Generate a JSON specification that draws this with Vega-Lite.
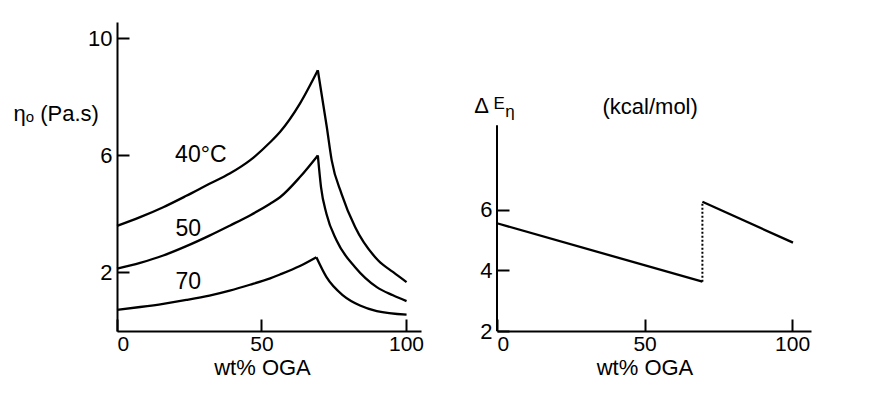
{
  "$schema": "https://vega.github.io/schema/vega-lite/v6.json",
  "background": "white",
  "padding": {"left": 13, "top": 22, "right": 5, "bottom": 5},
  "spacing": 50,
  "config": {
    "view": {"stroke": null},
    "font": "Liberation Sans",
    "axis": {
      "domainColor": "black", "domainWidth": 2,
      "tickColor": "black", "tickWidth": 2, "tickSize": -12,
      "labelColor": "black", "labelFontSize": 22, "labelFont": "Liberation Sans", "labelPadding": 17,
      "titleFont": "Liberation Sans", "titleColor": "black", "titleFontWeight": "normal", "titleFontSize": 22,
      "grid": false
    },
    "axisX": {"labelPadding": 14, "labelFontSize": 21, "titlePadding": 3}
  },
  "datasets": {
    "eta": [
      {"T": 40, "side": "up", "wt": 0, "eta": 3.59},
      {"T": 40, "side": "up", "wt": 8, "eta": 3.89},
      {"T": 40, "side": "up", "wt": 16, "eta": 4.23},
      {"T": 40, "side": "up", "wt": 24, "eta": 4.62},
      {"T": 40, "side": "up", "wt": 32, "eta": 5.03},
      {"T": 40, "side": "up", "wt": 39, "eta": 5.38},
      {"T": 40, "side": "up", "wt": 46, "eta": 5.83},
      {"T": 40, "side": "up", "wt": 53, "eta": 6.45},
      {"T": 40, "side": "up", "wt": 56.4, "eta": 6.8},
      {"T": 40, "side": "up", "wt": 63.3, "eta": 7.77},
      {"T": 40, "side": "up", "wt": 69.5, "eta": 8.91},
      {"T": 40, "side": "down", "wt": 69.5, "eta": 8.91},
      {"T": 40, "side": "down", "wt": 72.6, "eta": 6.97},
      {"T": 40, "side": "down", "wt": 74.3, "eta": 5.83},
      {"T": 40, "side": "down", "wt": 77.7, "eta": 4.69},
      {"T": 40, "side": "down", "wt": 82.4, "eta": 3.55},
      {"T": 40, "side": "down", "wt": 90.4, "eta": 2.41},
      {"T": 40, "side": "down", "wt": 95.6, "eta": 2.01},
      {"T": 40, "side": "down", "wt": 100.2, "eta": 1.67},
      {"T": 50, "side": "up", "wt": 0, "eta": 2.13},
      {"T": 50, "side": "up", "wt": 8, "eta": 2.33},
      {"T": 50, "side": "up", "wt": 16, "eta": 2.58},
      {"T": 50, "side": "up", "wt": 24, "eta": 2.9},
      {"T": 50, "side": "up", "wt": 32, "eta": 3.26},
      {"T": 50, "side": "up", "wt": 39, "eta": 3.6},
      {"T": 50, "side": "up", "wt": 46, "eta": 3.95},
      {"T": 50, "side": "up", "wt": 53, "eta": 4.35},
      {"T": 50, "side": "up", "wt": 56.4, "eta": 4.57},
      {"T": 50, "side": "up", "wt": 63.3, "eta": 5.26},
      {"T": 50, "side": "up", "wt": 69.5, "eta": 6.0},
      {"T": 50, "side": "down", "wt": 69.5, "eta": 6.0},
      {"T": 50, "side": "down", "wt": 70.6, "eta": 4.92},
      {"T": 50, "side": "down", "wt": 72.5, "eta": 4.0},
      {"T": 50, "side": "down", "wt": 76, "eta": 3.09},
      {"T": 50, "side": "down", "wt": 82.4, "eta": 2.18},
      {"T": 50, "side": "down", "wt": 89.9, "eta": 1.5},
      {"T": 50, "side": "down", "wt": 95.5, "eta": 1.22},
      {"T": 50, "side": "down", "wt": 100.2, "eta": 1.02},
      {"T": 70, "side": "up", "wt": 0, "eta": 0.72},
      {"T": 70, "side": "up", "wt": 8, "eta": 0.82},
      {"T": 70, "side": "up", "wt": 16, "eta": 0.93},
      {"T": 70, "side": "up", "wt": 24, "eta": 1.06},
      {"T": 70, "side": "up", "wt": 32, "eta": 1.21},
      {"T": 70, "side": "up", "wt": 39, "eta": 1.38},
      {"T": 70, "side": "up", "wt": 46, "eta": 1.58},
      {"T": 70, "side": "up", "wt": 53, "eta": 1.8},
      {"T": 70, "side": "up", "wt": 56.4, "eta": 1.93},
      {"T": 70, "side": "up", "wt": 63.3, "eta": 2.22},
      {"T": 70, "side": "up", "wt": 69, "eta": 2.52},
      {"T": 70, "side": "down", "wt": 69, "eta": 2.52},
      {"T": 70, "side": "down", "wt": 72.5, "eta": 1.84},
      {"T": 70, "side": "down", "wt": 78.3, "eta": 1.21},
      {"T": 70, "side": "down", "wt": 84.1, "eta": 0.87},
      {"T": 70, "side": "down", "wt": 89.9, "eta": 0.68},
      {"T": 70, "side": "down", "wt": 100.2, "eta": 0.56}
    ],
    "etaLabels": [
      {"label": "40°C", "x": 29, "y": 6.0},
      {"label": "50", "x": 24.7, "y": 3.49},
      {"label": "70", "x": 24.7, "y": 1.67}
    ],
    "dE": [
      {"seg": "low", "wt": 0, "E": 5.56},
      {"seg": "low", "wt": 69.6, "E": 3.63},
      {"seg": "high", "wt": 69.6, "E": 6.27},
      {"seg": "high", "wt": 100.3, "E": 4.92},
      {"seg": "jump", "wt": 69.6, "E": 3.63},
      {"seg": "jump", "wt": 69.6, "E": 6.27}
    ],
    "dELabels": [
      {"label": "Δ", "x": -5.25, "y": 9.45},
      {"label": "E", "x": 0.7, "y": 9.5},
      {"label": "η", "x": 4.4, "y": 9.24},
      {"label": "(kcal/mol)", "x": 51.9, "y": 9.39}
    ]
  },
  "hconcat": [
    {
      "width": 304,
      "height": 309,
      "layer": [
        {
          "data": {"name": "eta"},
          "mark": {"type": "line", "color": "black", "strokeWidth": 2.3, "interpolate": "monotone"},
          "encoding": {
            "x": {"field": "wt", "type": "quantitative",
                  "scale": {"domain": [0, 105.2], "nice": false, "zero": false},
                  "axis": {"values": [0, 50, 100], "title": "wt% OGA", "titleX": 145, "titleAlign": "center"}},
            "y": {"field": "eta", "type": "quantitative",
                  "scale": {"domain": [0, 10.56], "nice": false},
                  "axis": {"values": [2, 6, 10], "title": "ηₒ (Pa.s)", "titleAngle": 0, "titleAlign": "left", "titleBaseline": "middle", "titleX": -104, "titleY": 91, "titleFontSize": 22}},
            "detail": [{"field": "T"}, {"field": "side"}]
          }
        },
        {
          "data": {"name": "etaLabels"},
          "mark": {"type": "text", "fontSize": 23, "font": "Liberation Sans", "color": "black", "align": "center", "baseline": "middle"},
          "encoding": {
            "x": {"field": "x", "type": "quantitative"},
            "y": {"field": "y", "type": "quantitative"},
            "text": {"field": "label"}
          }
        }
      ]
    },
    {
      "width": 314,
      "height": 309,
      "layer": [
        {
          "data": {"name": "dE"},
          "transform": [{"filter": "datum.seg != 'jump'"}],
          "mark": {"type": "line", "color": "black", "strokeWidth": 2.3},
          "encoding": {
            "x": {"field": "wt", "type": "quantitative",
                  "scale": {"domain": [0, 106.4], "nice": false, "zero": false},
                  "axis": {"values": [0, 50, 100], "title": "wt% OGA", "titleX": 147.5, "titleAlign": "center"}},
            "y": {"field": "E", "type": "quantitative",
                  "scale": {"domain": [2, 12.21], "nice": false, "zero": false},
                  "axis": {"values": [2, 4, 6], "title": null, "domain": false}},
            "detail": {"field": "seg"}
          }
        },
        {
          "data": {"name": "dE"},
          "transform": [{"filter": "datum.seg == 'jump'"}],
          "mark": {"type": "line", "color": "black", "strokeWidth": 2, "strokeDash": [2, 2]},
          "encoding": {
            "x": {"field": "wt", "type": "quantitative"},
            "y": {"field": "E", "type": "quantitative"}
          }
        },
        {
          "data": {"values": [{}]},
          "mark": {"type": "rule", "color": "black", "strokeWidth": 2},
          "encoding": {
            "x": {"datum": 0, "type": "quantitative"},
            "y": {"datum": 2, "type": "quantitative"},
            "y2": {"datum": 8.8}
          }
        },
        {
          "data": {"name": "dELabels"},
          "transform": [{"filter": "datum.label == 'Δ'"}],
          "mark": {"type": "text", "fontSize": 22, "font": "Liberation Sans", "color": "black", "align": "center", "baseline": "middle"},
          "encoding": {"x": {"field": "x", "type": "quantitative"}, "y": {"field": "y", "type": "quantitative"}, "text": {"field": "label"}}
        },
        {
          "data": {"name": "dELabels"},
          "transform": [{"filter": "datum.label == 'E' || datum.label == 'η'"}],
          "mark": {"type": "text", "fontSize": 17, "font": "Liberation Sans", "color": "black", "align": "center", "baseline": "middle"},
          "encoding": {"x": {"field": "x", "type": "quantitative"}, "y": {"field": "y", "type": "quantitative"}, "text": {"field": "label"}}
        },
        {
          "data": {"name": "dELabels"},
          "transform": [{"filter": "datum.label == '(kcal/mol)'"}],
          "mark": {"type": "text", "fontSize": 22, "font": "Liberation Sans", "color": "black", "align": "center", "baseline": "middle"},
          "encoding": {"x": {"field": "x", "type": "quantitative"}, "y": {"field": "y", "type": "quantitative"}, "text": {"field": "label"}}
        }
      ]
    }
  ]
}
